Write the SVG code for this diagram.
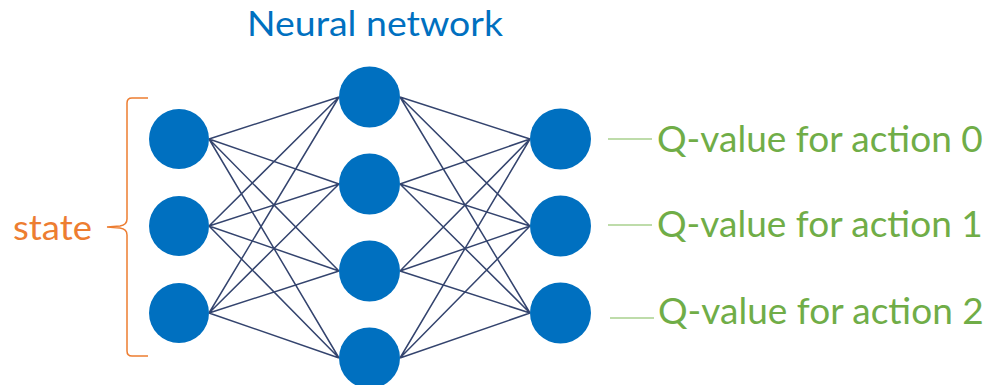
<svg xmlns="http://www.w3.org/2000/svg" width="987" height="385" viewBox="0 0 987 385">
  <style>
    .node { fill: #0070c0; }
    .edge { stroke: #34446e; stroke-width: 1.5; fill: none; }
    .lead { stroke: #a9d18e; stroke-width: 1.5; }
    .q { font-family: Lato, "Open Sans", sans-serif; font-size: 37px; fill: #70ad47; }
    .title { font-family: Lato, "Open Sans", sans-serif; font-size: 35px; fill: #0070c0; }
    .state { font-family: Lato, "Open Sans", sans-serif; font-size: 35px; fill: #ed7d31; }
    .brace { stroke: #ed7d31; stroke-width: 1.5; fill: none; }
  </style>
  <rect width="987" height="385" fill="#ffffff"/>

  <text class="title" x="247" y="36" textLength="256" lengthAdjust="spacingAndGlyphs">Neural network</text>

  <!-- connections: input -> hidden -> output -->
  <g id="connectors">
    <path class="edge" d="M209,139 L339,97 M209,139 L339,184 M209,139 L339,271 M209,139 L339,358
                          M209,226 L339,97 M209,226 L339,184 M209,226 L339,271 M209,226 L339,358
                          M209,313 L339,97 M209,313 L339,184 M209,313 L339,271 M209,313 L339,358"/>
    <path class="edge" d="M400,97 L530,139 M400,97 L530,226 M400,97 L530,313
                          M400,184 L530,139 M400,184 L530,226 M400,184 L530,313
                          M400,271 L530,139 M400,271 L530,226 M400,271 L530,313
                          M400,358 L530,139 M400,358 L530,226 M400,358 L530,313"/>
    <line class="lead" x1="608" y1="139" x2="652" y2="139"/>
    <line class="lead" x1="608" y1="225" x2="652" y2="225"/>
    <line class="lead" x1="610" y1="318" x2="654" y2="318"/>
  </g>

  <!-- input layer -->
  <g id="in0"><circle class="node" cx="179" cy="139" r="30"/></g>
  <g id="in1"><circle class="node" cx="179" cy="226" r="30"/></g>
  <g id="in2"><circle class="node" cx="179" cy="313" r="30"/></g>

  <!-- hidden layer -->
  <g id="h0"><circle class="node" cx="369.5" cy="97" r="30.5"/></g>
  <g id="h1"><circle class="node" cx="369.5" cy="184" r="30.5"/></g>
  <g id="h2"><circle class="node" cx="369.5" cy="271" r="30.5"/></g>
  <g id="h3"><circle class="node" cx="369.5" cy="358" r="30.5"/></g>

  <!-- output layer -->
  <g id="out0"><circle class="node" cx="560.5" cy="139" r="30.5"/></g>
  <g id="out1"><circle class="node" cx="560.5" cy="226" r="30.5"/></g>
  <g id="out2"><circle class="node" cx="560.5" cy="313" r="30.5"/></g>

  <!-- state brace -->
  <g id="state">
    <path class="brace" d="M148,98 L132,98 Q127,98 127,103 L127,219 Q127,225 120,226 L107,227 L120,228 Q127,229 127,235 L127,351 Q127,356 132,356 L148,356"/>
    <text class="state" x="13" y="240" textLength="79" lengthAdjust="spacingAndGlyphs">state</text>
  </g>

  <!-- output labels -->
  <g id="labels">
    <text class="q" x="657" y="152">Q-value for action 0</text>
    <text class="q" x="657" y="237">Q-value for action 1</text>
    <text class="q" x="658" y="324">Q-value for action 2</text>
  </g>
</svg>
